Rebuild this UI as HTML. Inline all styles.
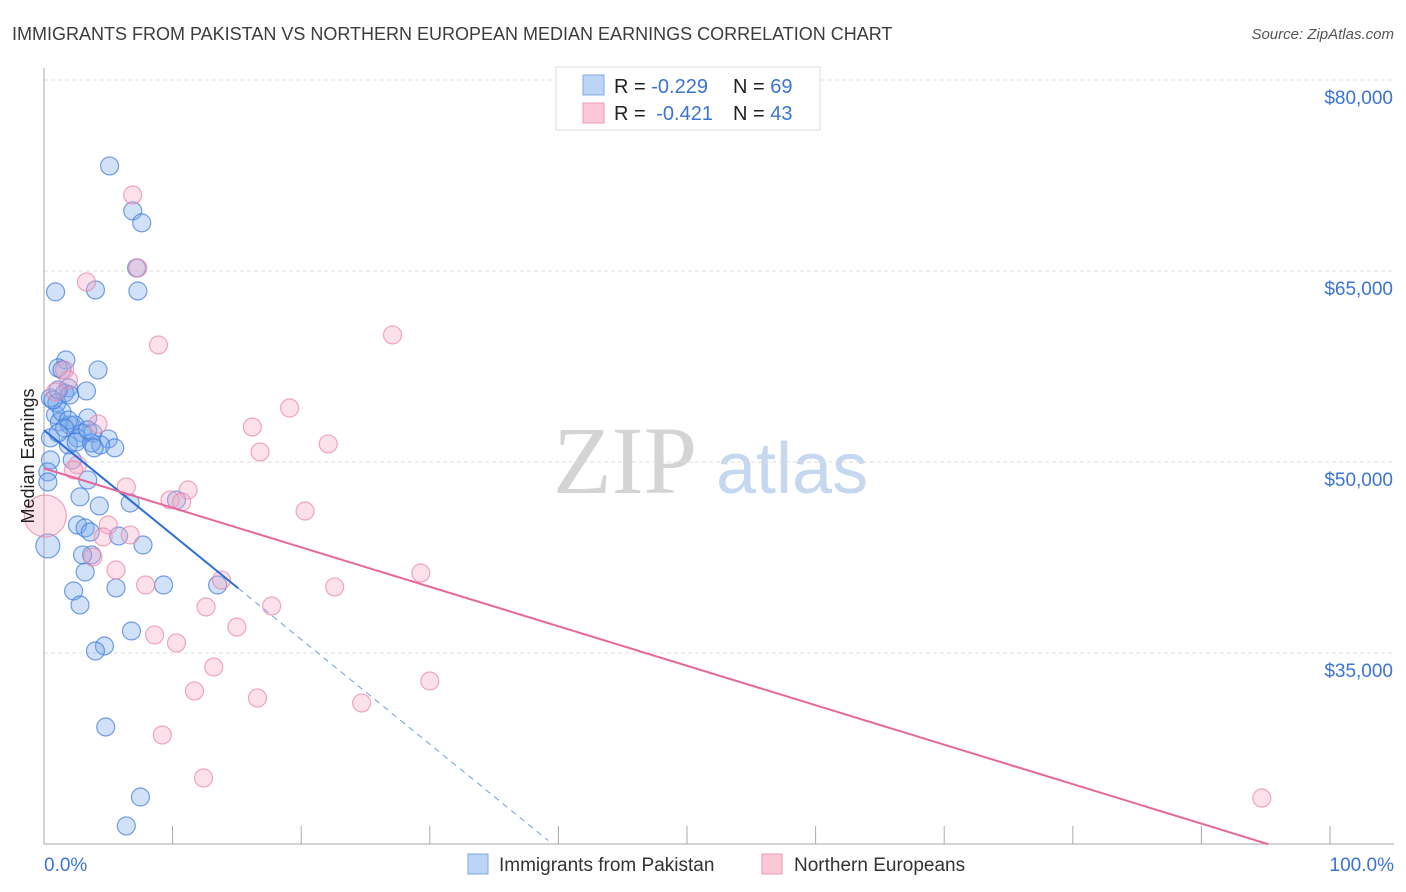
<!DOCTYPE html>
<html><head><meta charset="utf-8"><style>
body{margin:0;background:#fff;font-family:"Liberation Sans",sans-serif}
svg{display:block}
</style></head><body>
<svg id="chart" width="1406" height="892" viewBox="0 0 1406 892" xmlns="http://www.w3.org/2000/svg">
<text x="12" y="40" font-size="18" fill="#3c3c3c">IMMIGRANTS FROM PAKISTAN VS NORTHERN EUROPEAN MEDIAN EARNINGS CORRELATION CHART</text>
<text x="1394" y="39" font-size="15" fill="#555" font-style="italic" text-anchor="end">Source: ZipAtlas.com</text>
<g>
<text x="553" y="493" font-size="96" fill="#d4d4d4" font-family="Liberation Serif,serif">ZIP</text>
<text x="716" y="493" font-size="72" fill="#c6d8ef">atlas</text>
</g>
<g id="grid"></g>
<g id="axes"></g>
<g id="points"></g>
<g id="trends"></g>
<text transform="translate(34,456) rotate(-90)" font-size="18" fill="#222" text-anchor="middle">Median Earnings</text>
<g>
<rect x="556" y="67" width="264" height="63" fill="#fff" stroke="#ddd"/>
<rect x="583" y="75" width="21" height="20" fill="#bcd4f5" stroke="#7fa9e6"/>
<rect x="583" y="103" width="21" height="20" fill="#fcc8d8" stroke="#ee9ab5"/>
<text x="614" y="93" font-size="20" fill="#222">R = <tspan fill="#3a74d4">-0.229</tspan><tspan x="733">N = </tspan><tspan fill="#3a74d4">69</tspan></text>
<text x="614" y="120" font-size="20" fill="#222">R = <tspan fill="#3a74d4" dx="5">-0.421</tspan><tspan x="733">N = </tspan><tspan fill="#3a74d4">43</tspan></text>
</g>
<g>
<rect x="468" y="854" width="20" height="20" fill="#bcd4f5" stroke="#7fa9e6"/>
<text x="499" y="871" font-size="19" fill="#333">Immigrants from Pakistan</text>
<rect x="762" y="854" width="20" height="20" fill="#fcc8d8" stroke="#ee9ab5"/>
<text x="794" y="871" font-size="19" fill="#333">Northern Europeans</text>
</g>
</svg>
<script>
const yTicks=[35000,50000,65000,80000];
const yTickLabels=["$35,000","$50,000","$65,000","$80,000"];
const xTicks=[0,10,20,30,40,50,60,70,80,90,100];
const xEndLabels=["0.0%","100.0%"];
const blueX=[5.1,6.9,7.6,7.2,0.9,4.0,7.3,1.7,1.1,1.4,4.2,1.9,3.3,0.5,1.6,0.9,3.4,1.2,2.0,2.4,3.0,0.5,2.6,3.8,5.0,1.9,5.5,0.5,0.3,0.3,2.2,3.4,2.8,4.3,6.7,2.6,3.2,3.6,5.8,0.3,7.7,3.7,3.2,9.3,13.5,5.6,2.3,2.8,6.8,4.7,4.0,4.8,7.5,6.4,10.3,1.0,1.4,1.9,1.6,1.1,2.5,4.4,3.7,0.7,3.9,2.0,3.0,1.1,3.4];
const blueY=[73250,69720,68780,65240,63360,63510,63430,58010,57390,57230,57230,55820,55580,55030,55420,53700,53460,53150,52910,52910,52280,51890,51890,52280,51810,51340,51110,50160,49220,48430,50160,48590,47260,46550,46780,45050,44820,44500,44190,43410,43480,42700,41360,40340,40340,40110,39870,38770,36730,35550,35160,29190,23690,21420,47020,54640,53930,53300,52670,52280,51570,51340,51500,54870,51110,55260,42700,55660,52520];
const pinkX=[6.9,7.3,3.3,8.9,27.1,1.6,1.9,0.9,19.1,16.2,4.2,22.1,16.8,2.6,2.3,11.2,6.4,9.8,10.7,20.3,5.0,4.6,6.7,3.8,5.6,13.8,7.9,29.3,22.6,12.6,17.7,15.0,8.6,10.3,13.2,11.7,16.6,30.0,24.7,9.2,12.4,94.7,0.1];
const pinkY=[70970,65240,64140,59190,59980,57230,56440,55500,54240,52750,52990,51420,50790,49770,49370,47800,48040,47020,46860,46150,45050,44110,44270,42540,41520,40730,40340,41280,40190,38620,38690,37040,36420,35790,33900,32020,31470,32800,31080,28560,25190,23610,45760];
const blueTrend=[52500,-822];
const pinkTrend=[49500,-310];
const blueSolidEnd=15.1, blueDashEnd=39.2, pinkEnd=95.2;

const NS="http://www.w3.org/2000/svg";
const X0=44,X1=1330,YB=844,YT=80,VMIN=20000,VMAX=80000;
const sx=v=>X0+(X1-X0)*v/100;
const sy=v=>YB-(YB-YT)*(v-VMIN)/(VMAX-VMIN);
function mk(tag,attrs,parent){const e=document.createElementNS(NS,tag);for(const k in attrs)e.setAttribute(k,attrs[k]);parent.appendChild(e);return e;}
const grid=document.getElementById('grid'),axes=document.getElementById('axes'),pts=document.getElementById('points'),tr=document.getElementById('trends');
yTicks.forEach((t,i)=>{
 const l=mk('line',{x1:X0,x2:1394,y1:sy(t),y2:sy(t),stroke:'#ddd','stroke-dasharray':'4,3'},grid);
 
 
 const tx=mk('text',{x:1393,y:sy(t)+24,'font-size':19,fill:'#3a74d4','text-anchor':'end'},grid);
 tx.textContent=yTickLabels[i];
 
 
});
const ya=mk('line',{x1:X0,x2:X0,y1:68,y2:YB,stroke:'#aaa'},axes);


const xa=mk('line',{x1:X0,x2:1394,y1:YB,y2:YB,stroke:'#aaa'},axes);


xTicks.forEach(t=>{
 const l=mk('line',{x1:sx(t),x2:sx(t),y1:YB,y2:YB-18,stroke:'#aaa'},axes);
 
 
});
[[0,'start',X0],[1,'end',1394]].forEach(([i,a,x])=>{
 const tx=mk('text',{x:x,y:871,'font-size':19,fill:'#3a74d4','text-anchor':a},axes);
 tx.textContent=xEndLabels[i];
 
 
});
blueX.forEach((x,i)=>{
 const r=(x<0.5&&blueY[i]<44000)?12:9;
 const c=mk('circle',{cx:sx(x),cy:sy(blueY[i]),r:r,fill:'rgba(120,168,235,0.35)',stroke:'rgba(60,120,220,0.7)','stroke-width':1.2},pts);
 
 
});
pinkX.forEach((x,i)=>{
 const r=(x<0.5)?21:9;
 const c=mk('circle',{cx:sx(x),cy:sy(pinkY[i]),r:r,fill:'rgba(248,170,195,0.35)',stroke:'rgba(235,130,165,0.7)','stroke-width':1.2},pts);
 
 
});
const bf=x=>blueTrend[0]+blueTrend[1]*x, pf=x=>pinkTrend[0]+pinkTrend[1]*x;
const b1=mk('line',{x1:sx(0),y1:sy(bf(0)),x2:sx(blueSolidEnd),y2:sy(bf(blueSolidEnd)),stroke:'#2a6fd6','stroke-width':2},tr);


const b2=mk('line',{x1:sx(blueSolidEnd),y1:sy(bf(blueSolidEnd)),x2:sx(blueDashEnd),y2:sy(bf(blueDashEnd)),stroke:'#6f9ee0','stroke-width':1,'stroke-dasharray':'6,5'},tr);


const p1=mk('line',{x1:sx(0),y1:sy(pf(0)),x2:sx(pinkEnd),y2:sy(pf(pinkEnd)),stroke:'#e8679a','stroke-width':2},tr);


</script>
</body></html>
